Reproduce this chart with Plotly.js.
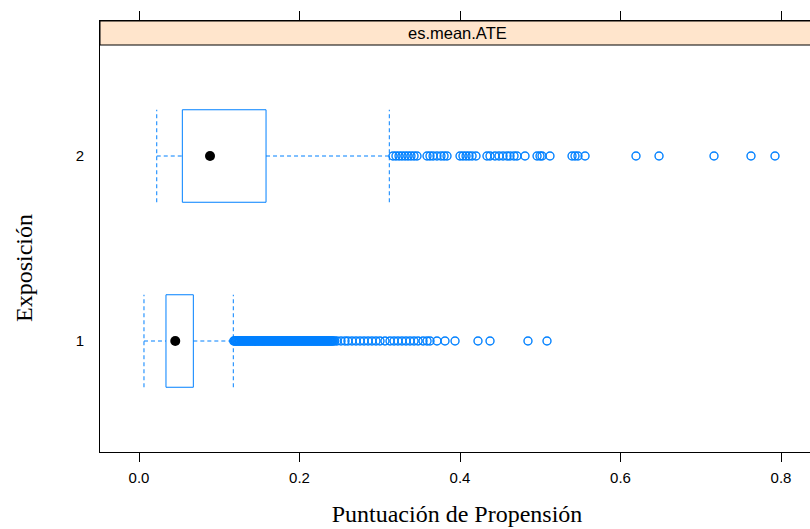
<!DOCTYPE html>
<html>
<head>
<meta charset="utf-8">
<script src="https://cdn.plot.ly/plotly-3.0.1.min.js"></script>
<style>
html,body{margin:0;padding:0;overflow:hidden;background:#fff;}
#chart{width:816px;height:529px;}
</style>
</head>
<body>
<div id="chart"></div>
<script>
// ---- data ----
const groups = [1, 2];
const groupLabels = ['1', '2'];
const lowerWhisker = [0.0062, 0.0221];
const q1 = [0.0336, 0.0540];
const medians = [0.0452, 0.0885];
const q3 = [0.0677, 0.1583];
const upperWhisker = [0.1175, 0.3119];

const outliers1 = [
  0.118,0.119,0.120,0.121,0.122,0.123,0.124,0.125,0.126,0.127,0.128,0.129,0.130,0.131,
  0.132,0.133,0.134,0.135,0.136,0.137,0.138,0.139,0.140,0.141,0.142,0.143,0.144,0.145,
  0.146,0.147,0.148,0.149,0.150,0.151,0.152,0.153,0.154,0.155,0.156,0.157,0.158,0.159,
  0.160,0.161,0.162,0.163,0.164,0.165,0.166,0.167,0.168,0.169,0.170,0.171,0.172,0.173,
  0.174,0.175,0.176,0.177,0.178,0.179,0.180,0.181,0.182,0.183,0.184,0.185,0.186,0.187,
  0.188,0.189,0.190,0.191,0.192,0.193,0.194,0.195,0.196,0.197,0.198,0.199,0.200,0.201,
  0.202,0.203,0.204,0.205,0.206,0.207,0.208,0.209,0.210,0.211,0.212,0.213,0.214,0.215,
  0.216,0.217,0.218,0.219,0.220,0.221,0.222,0.223,0.224,0.225,0.226,0.227,0.228,0.229,
  0.230,0.231,0.232,0.233,0.234,0.235,0.236,0.237,0.238,0.239,0.240,0.241,0.242,0.244,
  0.2467,0.2517,0.2567,0.2604,0.2654,0.2704,0.2754,0.2804,0.2854,0.2903,0.2953,0.3003,
  0.3065,0.3128,0.3178,0.3227,0.3277,0.3327,0.3377,0.3427,0.3477,0.3539,0.3589,0.3626,
  0.3713,0.3813,0.3938,0.4224,0.4374,0.4847,0.5084
];
const outliers2 = [
  0.3165,0.3202,0.3240,0.3277,0.3315,0.3352,0.3389,0.3427,0.3464,
  0.3589,0.3626,0.3664,0.3713,0.3763,0.3801,0.3838,
  0.4000,0.4037,0.4075,0.4112,0.4150,0.4199,
  0.4336,0.4374,0.4436,0.4486,0.4536,0.4586,0.4623,0.4673,0.4710,0.4810,
  0.4960,0.4997,0.5022,0.5121,
  0.5396,0.5433,0.5470,0.5558,
  0.6193,0.6480,0.7165,0.7626,0.7925
];
const outlierSets = [outliers1, outliers2];

const xTickVals = [0, 0.2, 0.4, 0.6, 0.8];
const xTickText = ['0.0', '0.2', '0.4', '0.6', '0.8'];
const stripLabel = 'es.mean.ATE';
const xLabel = 'Puntuación de Propensión';
const yLabel = 'Exposición';

// ---- styling ----
const BLUE = '#0080ff';
const half = 0.25;          // box ratio 1 -> half-height 0.25
const yBottom = 0.4, yDataTop = 2.6;
const plotTop = 21, plotBottom = 452;
const plotH = plotBottom - plotTop, stripH = 24;
const yTop = yBottom + (yDataTop - yBottom) * plotH / (plotH - stripH);
const stripBottomPaper = (yDataTop - yBottom) / (yTop - yBottom);
const xMin = -0.0486, xMax = 0.8411;

const traces = [];
groups.forEach((g, i) => {
  traces.push({
    type: 'scatter', mode: 'lines', hoverinfo: 'skip', showlegend: false,
    x: [lowerWhisker[i], q1[i], null, q3[i], upperWhisker[i], null,
        lowerWhisker[i], lowerWhisker[i], null, upperWhisker[i], upperWhisker[i]],
    y: [g, g, null, g, g, null, g - half, g + half, null, g - half, g + half],
    line: {color: BLUE, width: 1, dash: '4px,3px'}
  });
  traces.push({
    type: 'scatter', mode: 'lines', hoverinfo: 'skip', showlegend: false,
    x: [q1[i], q3[i], q3[i], q1[i], q1[i]],
    y: [g - half, g - half, g + half, g + half, g - half],
    line: {color: BLUE, width: 1}
  });
  traces.push({
    type: 'scatter', mode: 'markers', showlegend: false,
    x: outlierSets[i], y: outlierSets[i].map(() => g),
    marker: {symbol: 'circle-open', size: 8, color: BLUE, line: {color: BLUE, width: 1.4}}
  });
  traces.push({
    type: 'scatter', mode: 'markers', showlegend: false,
    x: [medians[i]], y: [g],
    marker: {symbol: 'circle', size: 10, color: 'black'}
  });
});

const layout = {
  width: 816, height: 529,
  margin: {l: 100, r: 2, t: plotTop, b: 529 - plotBottom, pad: 0},
  paper_bgcolor: 'white', plot_bgcolor: 'white',
  showlegend: false,
  font: {family: 'Liberation Sans, Arial, sans-serif', color: 'black', size: 15},
  xaxis: {
    range: [xMin, xMax], tickvals: xTickVals, ticktext: xTickText,
    ticks: 'outside', ticklen: 9, tickcolor: 'black', tickwidth: 1,
    showline: true, linecolor: 'black', linewidth: 1, mirror: 'ticks',
    showgrid: false, zeroline: false, ticklabelstandoff: 3,
    tickfont: {family: 'Liberation Sans, Arial, sans-serif', size: 15},
    title: {text: xLabel, font: {family: 'Liberation Serif, Times New Roman, serif', size: 24}, standoff: 20}
  },
  yaxis: {
    range: [yBottom, yTop], tickvals: groups, ticktext: groupLabels,
    ticks: 'outside', ticklen: 12, tickcolor: 'rgba(0,0,0,0)',
    showline: true, linecolor: 'black', linewidth: 1, mirror: true,
    showgrid: false, zeroline: false,
    tickfont: {family: 'Liberation Sans, Arial, sans-serif', size: 15}
  },
  shapes: [{
    type: 'rect', xref: 'paper', yref: 'paper', x0: 0, x1: 1,
    y0: stripBottomPaper, y1: 1, fillcolor: '#ffe5cc',
    line: {color: 'black', width: 1}, layer: 'above'
  }],
  annotations: [
    {text: stripLabel, xref: 'paper', yref: 'paper', x: 0.5, y: (stripBottomPaper + 1) / 2,
     showarrow: false, xanchor: 'center', yanchor: 'middle',
     font: {family: 'Liberation Sans, Arial, sans-serif', size: 16.5, color: 'black'}},
    {text: yLabel, xref: 'paper', yref: 'paper', x: (24 - 100) / 714, y: (plotBottom - 268) / plotH,
     showarrow: false, xanchor: 'center', yanchor: 'middle', textangle: -90,
     font: {family: 'Liberation Serif, Times New Roman, serif', size: 24, color: 'black'}}
  ]
};

Plotly.newPlot('chart', traces, layout, {displayModeBar: false, staticPlot: true});
</script>
</body>
</html>
